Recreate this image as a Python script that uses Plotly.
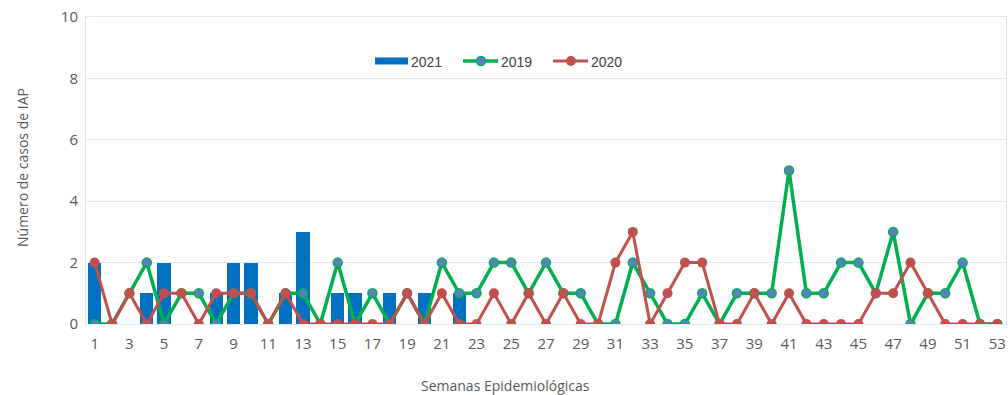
import plotly.graph_objects as go

# Epidemiological weeks 1..53
weeks = list(range(1, 54))

# Weekly IAP case counts
cases_2021 = [2, 0, 0, 1, 2, 0, 0, 1, 2, 2, 0, 1, 3, 0, 1, 1, 0, 1, 0, 1, 0, 1] + [0] * 31
cases_2019 = [0, 0, 1, 2, 0, 1, 1, 0, 1, 1, 0, 1, 1, 0, 2, 0, 1, 0, 1, 0,
              2, 1, 1, 2, 2, 1, 2, 1, 1, 0, 0, 2, 1, 0, 0, 1, 0, 1, 1, 1,
              5, 1, 1, 2, 2, 1, 3, 0, 1, 1, 2, 0, 0]
cases_2020 = [2, 0, 1, 0, 1, 1, 0, 1, 1, 1, 0, 1, 0, 0, 0, 0, 0, 0, 1, 0,
              1, 0, 0, 1, 0, 1, 0, 1, 0, 0, 2, 3, 0, 1, 2, 2, 0, 0, 1, 0,
              1, 0, 0, 0, 0, 1, 1, 2, 1, 0, 0, 0, 0]

x_tick_vals = list(range(1, 54, 2))
x_tick_text = [str(v) for v in x_tick_vals]
y_tick_vals = [0, 2, 4, 6, 8, 10]

TICK_FONT = dict(family="Open Sans", size=15, color="#595959")
FRAME = "#DCE8F3"
BLUE, GREEN, RED, MARKER_2019 = "#0070C0", "#00B050", "#C0504D", "#5B7FC2"

# plot area in pixels (used to place the legend and titles in paper units)
L, R, T, B = 86, 1006, 17, 324
W, H = R - L, B - T


def px(x):
    return (x - L) / W


def py(y):
    return (B - y) / H


# 2021 bars only up to the last week with data
n21 = 22
fig = go.Figure()
fig.add_trace(go.Bar(
    x=weeks[:n21], y=cases_2021[:n21], name="2021",
    marker=dict(color=BLUE, line=dict(width=0)),
    width=0.77,
))
fig.add_trace(go.Scatter(
    x=weeks, y=cases_2019, name="2019", mode="lines+markers",
    line=dict(color=GREEN, width=3.5),
    marker=dict(size=9, color=MARKER_2019, line=dict(color=GREEN, width=1.5)),
))
fig.add_trace(go.Scatter(
    x=weeks, y=cases_2020, name="2020", mode="lines+markers",
    line=dict(color=RED, width=3),
    marker=dict(size=10, color=RED, line=dict(width=0)),
))

fig.update_layout(
    width=1008, height=395,
    margin=dict(l=L, r=1008 - R, t=T, b=395 - B),
    paper_bgcolor="white", plot_bgcolor="white",
    bargap=0,
    showlegend=False,
    xaxis=dict(
        range=[0.5, 53.5], tickmode="array", tickvals=x_tick_vals, ticktext=x_tick_text,
        showgrid=False, zeroline=False, showline=True, mirror=True,
        linecolor=FRAME, linewidth=1, ticks="", tickfont=TICK_FONT,
        ticklabelstandoff=6,
    ),
    yaxis=dict(
        range=[0, 10], tickmode="array", tickvals=y_tick_vals,
        showgrid=True, gridcolor="#E3EAF2", gridwidth=1,
        zeroline=False, showline=True, mirror=True,
        linecolor=FRAME, linewidth=1, ticks="", tickfont=TICK_FONT,
        ticklabelstandoff=4,
    ),
)

# legend drawn as shapes and labels
LEG_Y = 61
LEG_FONT = dict(family="Liberation Sans", size=14, color="#404040")
shapes = [
    dict(type="rect", xref="paper", yref="paper", x0=px(375), x1=px(408),
         y0=py(LEG_Y + 3.5), y1=py(LEG_Y - 3.5), fillcolor=BLUE, line=dict(width=0)),
    dict(type="line", xref="paper", yref="paper", x0=px(463), x1=px(498),
         y0=py(LEG_Y), y1=py(LEG_Y), line=dict(color=GREEN, width=3.5)),
    dict(type="circle", xref="paper", yref="paper", x0=px(481 - 4.5), x1=px(481 + 4.5),
         y0=py(LEG_Y + 4.5), y1=py(LEG_Y - 4.5), fillcolor=MARKER_2019,
         line=dict(color=GREEN, width=1.5)),
    dict(type="line", xref="paper", yref="paper", x0=px(553), x1=px(588),
         y0=py(LEG_Y), y1=py(LEG_Y), line=dict(color=RED, width=3)),
    dict(type="circle", xref="paper", yref="paper", x0=px(571 - 5), x1=px(571 + 5),
         y0=py(LEG_Y + 5), y1=py(LEG_Y - 5), fillcolor=RED, line=dict(width=0)),
]
fig.update_layout(shapes=shapes)
for label, x0 in (("2021", 409), ("2019", 499), ("2020", 589)):
    fig.add_annotation(
        text=label, xref="paper", yref="paper", x=px(x0), y=py(LEG_Y + 1),
        xanchor="left", yanchor="middle", showarrow=False, font=LEG_FONT,
    )

fig.add_annotation(
    text="Semanas Epidemiológicas", xref="paper", yref="paper",
    x=px(505), y=py(385), xanchor="center", yanchor="middle",
    showarrow=False, font=dict(family="Open Sans", size=14, color="#595959"),
)
fig.add_annotation(
    text="Número de casos de IAP", xref="paper", yref="paper",
    x=px(22), y=py(168), xanchor="center", yanchor="middle",
    textangle=-90, showarrow=False,
    font=dict(family="Open Sans", size=14, color="#595959"),
)

fig.write_html("out.html")
